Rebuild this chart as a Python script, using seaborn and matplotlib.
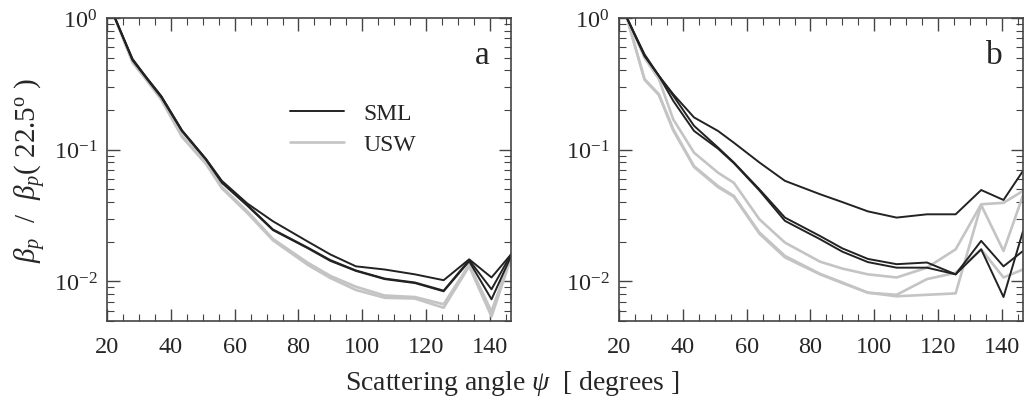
import numpy as np
import pandas as pd
import matplotlib
matplotlib.use("Agg")
import matplotlib.pyplot as plt
from matplotlib.ticker import MultipleLocator, LogLocator, NullFormatter
import seaborn as sns

# scattering angles (degrees)
angles = [22.5, 28, 32.5, 37, 43.5, 51, 56, 64, 72, 83, 90, 98, 107,
          116.5, 125.5, 133.5, 140.5, 146.6]

# panel a, normalised VSF
a_sml1 = [1.0, 0.49, 0.35, 0.255, 0.14, 0.085, 0.058, 0.039, 0.0286, 0.020,
          0.016, 0.013, 0.0123, 0.0113, 0.0102, 0.0147, 0.0107, 0.016]
a_sml2 = [1.0, 0.48, 0.35, 0.255, 0.14, 0.085, 0.057, 0.038, 0.0248, 0.018,
          0.0145, 0.0121, 0.0105, 0.0098, 0.0085, 0.0145, 0.0087, 0.016]
a_sml3 = [1.0, 0.48, 0.345, 0.25, 0.138, 0.084, 0.056, 0.0375, 0.0245, 0.0178,
          0.0143, 0.012, 0.0104, 0.0097, 0.0084, 0.0142, 0.0073, 0.0155]
a_usw1 = [1.0, 0.47, 0.34, 0.245, 0.128, 0.080, 0.052, 0.034, 0.021, 0.0138,
          0.011, 0.0091, 0.0078, 0.0076, 0.0067, 0.0134, 0.0059, 0.0155]
a_usw2 = [1.0, 0.46, 0.335, 0.24, 0.125, 0.078, 0.051, 0.033, 0.0205, 0.0133,
          0.0106, 0.0086, 0.0075, 0.0074, 0.0063, 0.0130, 0.0054, 0.015]

# panel b
b_sml1 = [1.0, 0.53, 0.364, 0.264, 0.176, 0.139, 0.113, 0.080, 0.058, 0.0459,
          0.040, 0.034, 0.0305, 0.0323, 0.0323, 0.0494, 0.0415, 0.069]
b_sml2 = [1.0, 0.517, 0.364, 0.257, 0.152, 0.104, 0.080, 0.050, 0.0305, 0.0221,
          0.0178, 0.0148, 0.0135, 0.0139, 0.0113, 0.0203, 0.013, 0.017]
b_sml3 = [1.0, 0.517, 0.364, 0.235, 0.139, 0.102, 0.079, 0.049, 0.0288, 0.0209,
          0.0168, 0.014, 0.0127, 0.0127, 0.0113, 0.0175, 0.0076, 0.024]
b_usw1 = [1.0, 0.50, 0.344, 0.17, 0.095, 0.067, 0.056, 0.0296, 0.0197, 0.0141,
          0.0125, 0.0113, 0.0107, 0.0127, 0.0175, 0.0385, 0.0395, 0.0486]
b_usw2 = [1.0, 0.344, 0.264, 0.143, 0.075, 0.053, 0.0445, 0.0235, 0.0156, 0.0114,
          0.0098, 0.0082, 0.0077, 0.0079, 0.0081, 0.038, 0.017, 0.045]
b_usw3 = [1.0, 0.34, 0.26, 0.14, 0.074, 0.052, 0.044, 0.023, 0.0152, 0.0113,
          0.0097, 0.0082, 0.0079, 0.0104, 0.0116, 0.0175, 0.0107, 0.0123]

sns.set_style("ticks")
plt.rcParams["font.family"] = ["Liberation Serif", "DejaVu Serif"]
plt.rcParams["mathtext.fontset"] = "custom"
plt.rcParams["mathtext.rm"] = "Liberation Serif"
plt.rcParams["mathtext.it"] = "Liberation Serif:italic"
plt.rcParams["axes.unicode_minus"] = False

black = "#222222"
grey = "#c4c4c4"

fig = plt.figure(figsize=(10.24, 4.06), dpi=100)
ax_a = fig.add_axes([0.1045, 0.207, 0.3945, 0.746])
ax_b = fig.add_axes([0.6045, 0.207, 0.3945, 0.746])

panels = [
    (ax_a, [a_usw1, a_usw2], [a_sml1, a_sml2, a_sml3], "a"),
    (ax_b, [b_usw1, b_usw2, b_usw3], [b_sml1, b_sml2, b_sml3], "b"),
]

for ax, usw_list, sml_list, letter in panels:
    for i, vals in enumerate(usw_list):
        sns.lineplot(x=angles, y=vals, ax=ax, color=grey, lw=1.9,
                     label="USW" if i == 0 else None, legend=False)
    for i, vals in enumerate(sml_list):
        sns.lineplot(x=angles, y=vals, ax=ax, color=black, lw=1.4,
                     label="SML" if i == 0 else None, legend=False)

    ax.set_yscale("log")
    ax.set_xlim(20, 146.6)
    ax.set_ylim(0.005, 1.0)
    ax.xaxis.set_major_locator(MultipleLocator(20))
    ax.xaxis.set_minor_locator(MultipleLocator(5))
    ax.yaxis.set_major_locator(LogLocator(base=10, numticks=5))
    ax.yaxis.set_minor_locator(LogLocator(base=10, subs=np.arange(2, 10), numticks=20))
    ax.yaxis.set_minor_formatter(NullFormatter())
    ax.tick_params(which="both", direction="in", top=True, right=True,
                   color="#444444", labelsize=17.5)
    ax.tick_params(axis="x", pad=11)
    ax.tick_params(axis="y", pad=7)
    ax.tick_params(which="major", length=9, width=1)
    ax.tick_params(which="minor", length=5, width=0.8)
    for s in ax.spines.values():
        s.set_color("#444444")
        s.set_linewidth(1.2)
    ax.text(0.93, 0.88, letter, transform=ax.transAxes, fontsize=24,
            ha="center", va="center")

handles, labels = ax_a.get_legend_handles_labels()
order = [labels.index("SML"), labels.index("USW")]
ax_a.legend([handles[k] for k in order], [labels[k] for k in order],
            loc="upper left", bbox_to_anchor=(0.40, 0.79), frameon=False,
            fontsize=17, handlelength=2.3, labelspacing=0.4)

ax_a.set_ylabel(r"$\beta_p$  /  $\beta_p$( 22.5$^{\rm o}$ )", fontsize=21,
                labelpad=4)
fig.text(0.5, 0.04, r"Scattering angle $\psi$  [ degrees ]", ha="center",
         fontsize=20)

plt.savefig("out.png", dpi=100)
plt.close()
